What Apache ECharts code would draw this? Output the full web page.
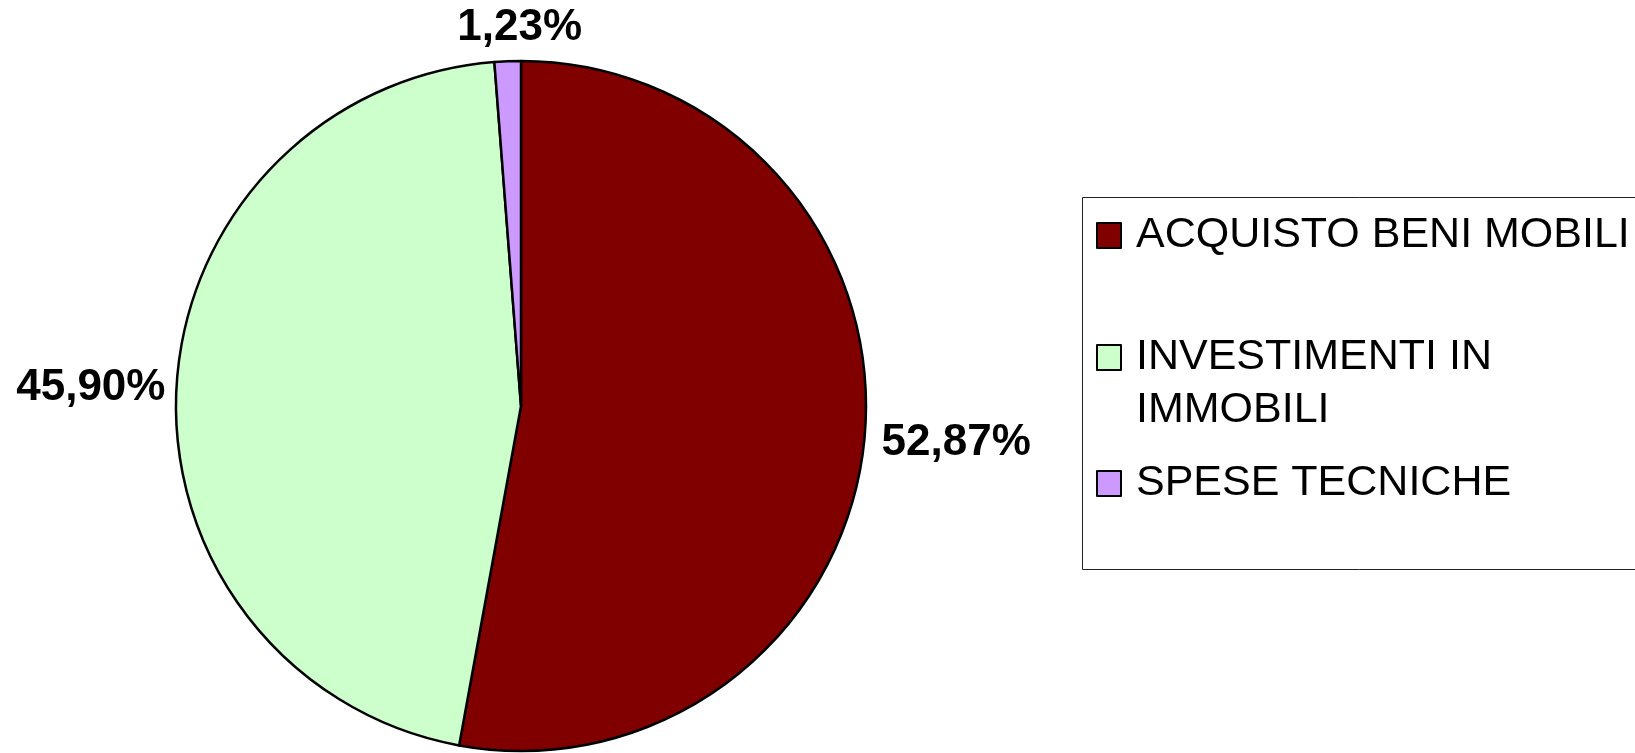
<!DOCTYPE html>
<html>
<head>
<meta charset="utf-8">
<script src="https://cdn.jsdelivr.net/npm/echarts@6/dist/echarts.min.js"></script>
<style>
html,body{margin:0;padding:0;background:#fff;}
#chart{width:1635px;height:753px;}
</style>
</head>
<body>
<div id="chart"></div>
<script>
const categories = ['ACQUISTO BENI MOBILI', 'INVESTIMENTI IN\nIMMOBILI', 'SPESE TECNICHE'];
const values = [52.87, 45.90, 1.23];
const colors = ['#800000', '#CCFFCC', '#CC99FF'];

const chart = echarts.init(document.getElementById('chart'));
const fmt = v => v.toFixed(2).replace('.', ',') + '%';

const legendBase = {
  orient: 'vertical',
  left: 1096,
  padding: 0,
  itemWidth: 24,
  itemHeight: 25,
  icon: 'rect',
  itemStyle: { borderColor: '#000', borderWidth: 2 },
  textStyle: { fontSize: 43, fontFamily: 'Liberation Sans, Arial, sans-serif', color: '#000', lineHeight: 53, padding: [0, 0, 0, 10] },
  selectedMode: false
};

const labelLens = [14, 6, 14];

chart.setOption({
  backgroundColor: '#fff',
  animation: false,
  color: colors,
  graphic: [{
    type: 'rect',
    shape: { x: 1082.5, y: 197.5, width: 700, height: 372 },
    style: { fill: 'none', stroke: '#222', lineWidth: 1 },
    z: 0
  }],
  legend: [
    Object.assign({}, legendBase, { top: 209, data: [categories[0]] }),
    Object.assign({}, legendBase, { top: 278, data: [categories[1]],
      formatter: name => ' \n' + name }),
    Object.assign({}, legendBase, { top: 457, data: [categories[2]] })
  ],
  series: [{
    type: 'pie',
    center: [521, 406],
    radius: 345,
    startAngle: 90,
    clockwise: true,
    avoidLabelOverlap: false,
    itemStyle: { borderColor: '#000', borderWidth: 2.5 },
    label: {
      show: true,
      position: 'outside',
      formatter: p => fmt(p.value),
      fontSize: 44,
      fontWeight: 'bold',
      fontFamily: 'Liberation Sans, Arial, sans-serif',
      color: '#000'
    },
    labelLine: { show: false, length: 14, length2: 0 },
    labelLayout: p => (p.dataIndex === 2 ? { dx: 80, dy: -19 } : (p.dataIndex === 0 ? { dx: -2, dy: 5 } : {})),
    emphasis: { disabled: true },
    data: categories.map((c, i) => ({ name: c, value: values[i], labelLine: { show: false, length: labelLens[i], length2: 0 } }))
  }]
});
</script>
</body>
</html>
